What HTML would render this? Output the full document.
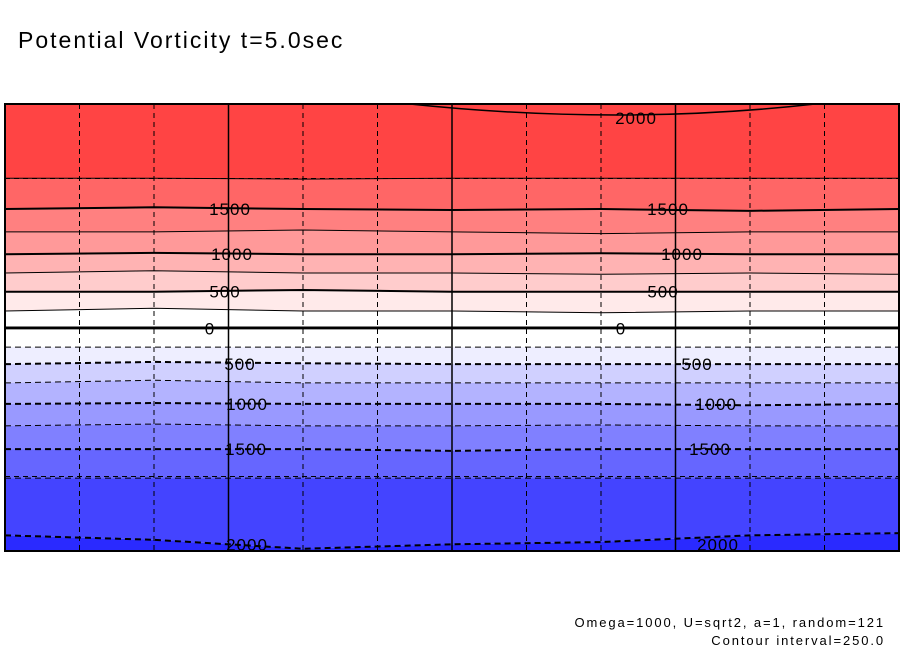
<!DOCTYPE html>
<html><head><meta charset="utf-8"><style>
body{margin:0;background:#fff;width:904px;height:654px;overflow:hidden;font-family:"Liberation Sans",sans-serif}
</style></head><body>
<svg id="chart" width="904" height="654" xmlns="http://www.w3.org/2000/svg">
<text x="18" y="48" font-size="23" letter-spacing="2" font-family="Liberation Sans, sans-serif">Potential Vorticity t=5.0sec</text>
<g id="bands"></g><g id="grid"></g><g id="lines"></g><g id="labels"></g>
<rect x="5" y="104" width="894" height="447" fill="none" stroke="#000" stroke-width="2"/>
<text x="885" y="627" text-anchor="end" font-size="13" letter-spacing="1.9">Omega=1000, U=sqrt2, a=1, random=121</text>
<text x="885" y="645" text-anchor="end" font-size="13" letter-spacing="1.9">Contour interval=250.0</text>
</svg>
<script>
// contour levels (top to bottom) and their mean vertical position (0=top of domain,1=bottom)
const levels=[1750,1500,1250,1000,750,500,250,0,-250,-500,-750,-1000,-1250,-1500,-1750,-2000];
const levelPos=[0.166,0.235,0.286,0.336,0.378,0.42,0.463,0.502,0.544,0.582,0.624,0.671,0.72,0.772,0.837,0.985];
const bandColors=["#ff4444","#ff6666","#ff8080","#ff9999","#ffb3b3","#ffcccc","#ffeaea","#ffffff","#ffffff","#eeeeff","#d0d0ff","#b3b3ff","#9999ff","#8080ff","#6666ff","#4444ff","#2a2aff"];
// wobble per level at 7 x-stations (fraction units)
const wobble=[[0,0,0.002,0,0,0,0],[0,-0.004,0,0.002,0,0.004,0],[0,0,-0.004,0,0.004,0,0],[0,-0.003,0,0,-0.002,0,0],[0,-0.005,0,0,0.003,0,0.003],[0,0,-0.004,0,0,0,0],[0,-0.006,0,0,0.004,0,0],[0,0,0,0,0,0,0],[0,0,0,0,0,0,0],[0,-0.005,-0.002,0,0,0,0],[0,-0.006,0,0,0,0,0],[0,-0.002,0,0,0,0.003,0],[0,-0.004,0,0,-0.002,0,0],[0,0,0,0.004,0,0,0],[0,0,0,0,0,0,0],[-0.02,-0.01,0.01,0.0,-0.005,-0.02,-0.025]];
const posLabels=[[1500,230,668],[1000,232,682],[500,225,663],[0,210,621]];
const negLabels=[[-500,240,697],[-1000,247,716],[-1500,246,710],[-2000,247,718]];
const X0=5,X1=899,Y0=104,Y1=551;
const xs=f=>X0+f*(X1-X0), ys=f=>Y0+f*(Y1-Y0);
const NS="http://www.w3.org/2000/svg";
function mk(t,a,p){const e=document.createElementNS(NS,t);for(const k in a)e.setAttribute(k,a[k]);p.appendChild(e);return e;}
function pts(i){const w=wobble[i];return w.map((d,j)=>[xs(j/6),ys(levelPos[i]+d)]);}
const bands=document.getElementById('bands');
for(let b=0;b<bandColors.length;b++){
  const top=b===0?[[X0,Y0],[X1,Y0]]:pts(b-1);
  const bot=b===levels.length?[[X0,Y1],[X1,Y1]]:pts(b);
  const poly=top.concat(bot.slice().reverse()).map(p=>p.join(',')).join(' ');
  const e=mk('polygon',{points:poly,fill:bandColors[b]},bands);
  
  
}
const c2000=mk('path',{d:`M410,104 Q620,126 815,104`,fill:'none',stroke:'#000','stroke-width':1.5},bands);


const grid=document.getElementById('grid');
for(let i=1;i<12;i++){const x=xs(i/12);const solid=i%3===0;
  const g=mk('line',{x1:x,x2:x,y1:Y0,y2:Y1,stroke:'#000','stroke-width':solid?1.5:1,'stroke-dasharray':solid?'':'5,4'},grid);
  
  }
[1,3,5].forEach(i=>{const y=ys(i/6);const solid=i===3;
  const g=mk('line',{x1:X0,x2:X1,y1:y,y2:y,stroke:'#000','stroke-width':solid?2:1,'stroke-dasharray':solid?'':'5,4'},grid);
  
  });
const lines=document.getElementById('lines');
levels.forEach((v,i)=>{const p=pts(i);const major=v%500===0;
  const e=mk('polyline',{points:p.map(q=>q.join(',')).join(' '),fill:'none',stroke:'#000','stroke-width':major?2:1,'stroke-dasharray':v<0?'6,4':''},lines);
  
  });
const labels=document.getElementById('labels');
function lab(v,x){const i=levels.indexOf(v);const y=ys(levelPos[i])+6;
  const t=mk('text',{x:x,y:y,'text-anchor':'middle','font-size':17,'letter-spacing':1,fill:'#000'},labels);
  t.textContent=Math.abs(v);
  
  }
posLabels.forEach(l=>{lab(l[0],l[1]);lab(l[0],l[2]);});
negLabels.forEach(l=>{lab(l[0],l[1]);lab(l[0],l[2]);});
const t2=mk('text',{x:636,y:124,'text-anchor':'middle','font-size':17,'letter-spacing':1},labels);
t2.textContent='2000';


</script>
</body></html>
